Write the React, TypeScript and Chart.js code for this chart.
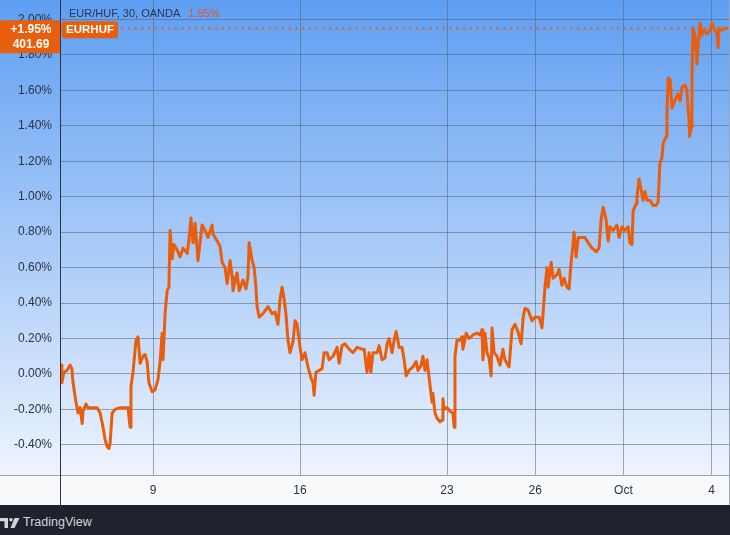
import React, { useEffect, useRef } from "react";
import { Chart, registerables } from "chart.js";

Chart.register(...registerables);

// x = trading days from Mon Sep 9 (weekends skipped), y = % change
const seriesSep4: [number, number][] = [
  [-3.13, 0.05], [-3.1, -0.05], [-3.03, 0.01], [-2.93, 0.02], [-2.82, 0.05], [-2.76, 0.03], [-2.72, -0.05],
  [-2.62, -0.16], [-2.55, -0.22], [-2.48, -0.19], [-2.41, -0.28], [-2.38, -0.21], [-2.28, -0.17], [-2.21, -0.19],
  [-2.04, -0.19], [-1.9, -0.19], [-1.8, -0.22], [-1.7, -0.3], [-1.63, -0.37], [-1.56, -0.41], [-1.5, -0.42],
  [-1.46, -0.39], [-1.39, -0.22], [-1.29, -0.2], [-1.12, -0.19], [-0.85, -0.19], [-0.78, -0.3], [-0.75, -0.07],
  [-0.68, 0.01], [-0.58, 0.19], [-0.51, 0.21], [-0.44, 0.06], [-0.34, 0.1], [-0.27, 0.11], [-0.2, 0.07],
  [-0.14, -0.05], [-0.03, -0.1],
];

const seriesSep9: [number, number][] = [
  [0.07, -0.09], [0.17, -0.03], [0.24, 0.07], [0.31, 0.23], [0.34, 0.08], [0.41, 0.34], [0.48, 0.47], [0.54, 0.49],
  [0.58, 0.81], [0.65, 0.65], [0.71, 0.73], [0.82, 0.7], [0.92, 0.66], [1.02, 0.71], [1.16, 0.68], [1.22, 0.75],
  [1.29, 0.88], [1.36, 0.74], [1.43, 0.85], [1.53, 0.64], [1.67, 0.84], [1.77, 0.81], [1.87, 0.77], [2.01, 0.84],
  [2.04, 0.79], [2.18, 0.75], [2.28, 0.72], [2.35, 0.63], [2.45, 0.6], [2.52, 0.51], [2.62, 0.64], [2.69, 0.55],
  [2.72, 0.47], [2.86, 0.57], [2.93, 0.47], [3.06, 0.53], [3.16, 0.48], [3.23, 0.55], [3.27, 0.74], [3.37, 0.64],
  [3.44, 0.6], [3.5, 0.49], [3.54, 0.38], [3.61, 0.32], [3.74, 0.34], [3.91, 0.38], [4.05, 0.34], [4.15, 0.35],
  [4.25, 0.28], [4.32, 0.42], [4.39, 0.49], [4.46, 0.42], [4.52, 0.34], [4.59, 0.19], [4.66, 0.12], [4.76, 0.18],
  [4.83, 0.3], [4.9, 0.28], [5.0, 0.15],
];

const seriesSep16: [number, number][] = [
  [5.07, 0.08], [5.17, 0.12], [5.27, 0.04], [5.37, -0.02], [5.44, -0.05], [5.48, -0.12], [5.54, 0.01], [5.65, 0.02],
  [5.75, 0.03], [5.82, 0.12], [5.92, 0.12], [5.99, 0.08], [6.12, 0.1], [6.26, 0.15], [6.33, 0.06], [6.43, 0.16],
  [6.53, 0.17], [6.67, 0.14], [6.8, 0.12], [6.94, 0.15], [7.11, 0.14], [7.18, 0.14], [7.24, 0.06], [7.28, 0.01],
  [7.35, 0.12], [7.41, 0.01], [7.48, 0.12], [7.62, 0.12], [7.69, 0.16], [7.79, 0.08], [7.89, 0.09], [7.96, 0.17],
  [8.03, 0.2], [8.13, 0.12], [8.2, 0.19], [8.27, 0.24], [8.37, 0.15], [8.47, 0.15], [8.54, 0.08], [8.61, -0.01],
  [8.71, 0.02], [8.84, 0.04], [8.95, 0.07], [9.01, 0.02], [9.12, 0.05], [9.18, 0.1], [9.25, 0.02], [9.32, 0.08],
  [9.39, -0.02], [9.49, -0.16], [9.52, -0.11], [9.59, -0.22], [9.66, -0.25], [9.76, -0.27], [9.83, -0.26],
  [9.86, -0.14], [9.9, -0.2], [10.0, -0.19], [10.1, -0.21], [10.2, -0.22], [10.24, -0.3], [10.27, 0.1],
  [10.34, 0.19], [10.44, 0.19],
];

const seriesSep23: [number, number][] = [
  [10.51, 0.21], [10.54, 0.14], [10.65, 0.23], [10.75, 0.2], [10.88, 0.22], [11.02, 0.23], [11.12, 0.22],
  [11.19, 0.25], [11.22, 0.08], [11.29, 0.23], [11.36, 0.12], [11.43, 0.09], [11.5, -0.01], [11.53, 0.26],
  [11.6, 0.12], [11.7, 0.1], [11.8, 0.05], [11.9, 0.14], [11.97, 0.08], [12.11, 0.04], [12.21, 0.25], [12.31, 0.28],
  [12.41, 0.24], [12.52, 0.17], [12.59, 0.32], [12.65, 0.37], [12.76, 0.36], [12.89, 0.3], [12.99, 0.32],
  [13.13, 0.32], [13.23, 0.26], [13.27, 0.35], [13.33, 0.49], [13.4, 0.6], [13.44, 0.49], [13.54, 0.63],
  [13.61, 0.54], [13.74, 0.56], [13.81, 0.59], [13.91, 0.5], [13.98, 0.54], [14.08, 0.49], [14.15, 0.48],
  [14.22, 0.63], [14.29, 0.74], [14.32, 0.8], [14.39, 0.66], [14.46, 0.77], [14.59, 0.77], [14.69, 0.77],
  [14.8, 0.74], [14.93, 0.71], [15.07, 0.69], [15.17, 0.71], [15.24, 0.87], [15.31, 0.94], [15.41, 0.87],
  [15.48, 0.75],
];

const seriesSep30: [number, number][] = [
  [15.54, 0.83], [15.65, 0.81], [15.78, 0.84], [15.85, 0.77], [15.95, 0.83], [16.05, 0.81], [16.16, 0.83],
  [16.22, 0.74], [16.29, 0.73], [16.33, 0.92], [16.43, 0.96], [16.46, 1.0], [16.53, 1.1], [16.6, 1.04],
  [16.67, 0.98], [16.73, 1.03], [16.8, 0.98], [16.9, 0.98], [17.01, 0.95], [17.11, 0.95], [17.18, 0.97],
  [17.24, 1.19], [17.31, 1.22], [17.35, 1.3], [17.45, 1.34], [17.48, 1.47], [17.52, 1.67], [17.59, 1.66],
  [17.65, 1.5], [17.72, 1.53], [17.79, 1.56], [17.86, 1.58], [17.93, 1.54], [17.99, 1.62], [18.1, 1.63],
  [18.16, 1.6], [18.23, 1.43], [18.25, 1.34], [18.3, 1.39], [18.33, 1.67], [18.37, 1.95], [18.44, 1.9],
  [18.5, 1.75], [18.54, 1.86], [18.61, 1.98], [18.67, 1.91], [18.71, 1.94], [18.84, 1.92], [18.95, 1.94],
  [19.01, 1.98], [19.08, 1.95], [19.18, 1.92], [19.22, 1.84], [19.25, 1.95], [19.35, 1.94], [19.46, 1.95],
  [19.52, 1.95],
];

const xTickDays = [0, 5, 10, 13, 16, 19];
const xTickLabels = ["9", "16", "23", "26", "Oct", "4"];
const yTicks = [-0.4, -0.2, 0, 0.2, 0.4, 0.6, 0.8, 1.0, 1.2, 1.4, 1.6, 1.8, 2.0];

const xMin = -3.13;
const xMax = 19.59;
const yMin = -0.57;
const yMax = 2.11;

const symbolLabel = "EURHUF";
const titleText = "EUR/HUF, 30, OANDA";
const lastPct = 1.95;
const lastPrice = "401.69";

const LINE = "#e95e0c";
const GRID = "rgba(88,98,114,0.55)";
const TEXT = "#2b3340";

function roundRect(ctx: CanvasRenderingContext2D, x: number, y: number, w: number, h: number, r: number) {
  ctx.beginPath();
  ctx.moveTo(x + r, y);
  ctx.lineTo(x + w - r, y);
  ctx.quadraticCurveTo(x + w, y, x + w, y + r);
  ctx.lineTo(x + w, y + h - r);
  ctx.quadraticCurveTo(x + w, y + h, x + w - r, y + h);
  ctx.lineTo(x + r, y + h);
  ctx.quadraticCurveTo(x, y + h, x, y + h - r);
  ctx.lineTo(x, y + r);
  ctx.quadraticCurveTo(x, y, x + r, y);
  ctx.closePath();
}

const tvPlugin = {
  id: "tvPlugin",
  beforeDraw(chart: any) {
    const { ctx, chartArea, width, height } = chart;
    ctx.save();
    const g = ctx.createLinearGradient(0, 0, 0, chartArea.bottom);
    g.addColorStop(0, "#5e9ef2");
    g.addColorStop(0.5, "#a6c9f8");
    g.addColorStop(1, "#eef4fd");
    ctx.fillStyle = g;
    ctx.fillRect(0, 0, width, chartArea.bottom);
    ctx.fillStyle = "#f8f9fb";
    ctx.fillRect(0, chartArea.bottom, width, height - chartArea.bottom);
    ctx.restore();
  },
  beforeDatasetsDraw(chart: any) {
    const { ctx, chartArea, scales } = chart;
    const py = Math.round(scales.y.getPixelForValue(lastPct)) + 0.5;
    ctx.save();
    ctx.strokeStyle = LINE;
    ctx.lineWidth = 2;
    ctx.setLineDash([2, 4.7]);
    ctx.beginPath();
    ctx.moveTo(chartArea.left, py);
    ctx.lineTo(chartArea.right, py);
    ctx.stroke();
    ctx.restore();
  },
  afterDraw(chart: any) {
    const { ctx, chartArea, scales, width, height } = chart;
    const { left, bottom } = chartArea;
    ctx.save();
    // axis lines
    ctx.lineWidth = 1;
    ctx.strokeStyle = "#9aa4b2";
    ctx.beginPath();
    ctx.moveTo(0, bottom + 0.5);
    ctx.lineTo(width, bottom + 0.5);
    ctx.stroke();
    ctx.beginPath();
    ctx.moveTo(width - 0.5, 0);
    ctx.lineTo(width - 0.5, height);
    ctx.stroke();
    ctx.strokeStyle = "#2f3542";
    ctx.beginPath();
    ctx.moveTo(left - 0.5, 0);
    ctx.lineTo(left - 0.5, height);
    ctx.stroke();

    const py = scales.y.getPixelForValue(lastPct);

    // title
    ctx.textBaseline = "middle";
    ctx.textAlign = "left";
    ctx.font = "11px 'Liberation Sans', Arial, sans-serif";
    ctx.fillStyle = "#2a3550";
    ctx.fillText(titleText, left + 8, py - 14);
    const tw = ctx.measureText(titleText).width;
    ctx.fillStyle = "#e2552a";
    ctx.fillText(lastPct.toFixed(2) + "%", left + 8 + tw + 8, py - 14);

    // price label box on the axis
    ctx.fillStyle = LINE;
    roundRect(ctx, 0, py - 8, left - 1, 33, 2);
    ctx.fill();
    ctx.fillStyle = "#ffffff";
    ctx.textAlign = "center";
    ctx.font = "bold 12px 'Liberation Sans', Arial, sans-serif";
    ctx.fillText("+" + lastPct.toFixed(2) + "%", (left - 1) / 2 + 1, py + 1);
    ctx.fillText(lastPrice, (left - 1) / 2 + 1, py + 16);

    // symbol label box
    ctx.fillStyle = LINE;
    roundRect(ctx, left + 1, py - 7, 56, 17, 2);
    ctx.fill();
    ctx.fillStyle = "#ffffff";
    ctx.font = "bold 11.5px 'Liberation Sans', Arial, sans-serif";
    ctx.fillText(symbolLabel, left + 29, py + 1.5);
    ctx.restore();
  },
};

export default function App() {
  const canvasRef = useRef<HTMLCanvasElement | null>(null);

  useEffect(() => {
    if (!canvasRef.current) return;
    const points = [...seriesSep4, ...seriesSep9, ...seriesSep16, ...seriesSep23, ...seriesSep30].map(([x, y]) => ({ x, y }));
    const chart = new Chart(canvasRef.current, {
      type: "line",
      data: {
        datasets: [
          {
            data: points,
            borderColor: LINE,
            borderWidth: 3,
            pointRadius: 0,
            tension: 0,
            borderJoinStyle: "round",
            borderCapStyle: "round",
            fill: false,
          },
        ],
      },
      options: {
        responsive: false,
        animation: false,
        events: [],
        layout: { padding: { left: 0, right: 1, top: 0, bottom: 0 } },
        plugins: { legend: { display: false }, tooltip: { enabled: false } },
        scales: {
          x: {
            type: "linear",
            position: "bottom",
            min: xMin,
            max: xMax,
            afterBuildTicks: (s: any) => {
              s.ticks = xTickDays.map((v) => ({ value: v }));
            },
            afterFit: (s: any) => {
              s.height = 30;
              s.paddingLeft = 0;
              s.paddingRight = 0;
            },
            ticks: {
              autoSkip: false,
              maxRotation: 0,
              padding: 8,
              color: TEXT,
              font: { family: "'Liberation Sans', Arial, sans-serif", size: 12 },
              callback: (v: any) => {
                const i = xTickDays.indexOf(Number(v));
                return i >= 0 ? xTickLabels[i] : "";
              },
            },
            grid: { color: GRID, lineWidth: 1, drawTicks: false },
            border: { display: false },
          },
          y: {
            type: "linear",
            position: "left",
            min: yMin,
            max: yMax,
            afterBuildTicks: (s: any) => {
              s.ticks = yTicks.map((v) => ({ value: v }));
            },
            afterFit: (s: any) => {
              s.width = 61;
              s.paddingTop = 0;
              s.paddingBottom = 0;
            },
            ticks: {
              padding: 9,
              color: TEXT,
              font: { family: "'Liberation Sans', Arial, sans-serif", size: 12 },
              callback: (v: any) => Number(v).toFixed(2) + "%",
            },
            grid: { color: GRID, lineWidth: 1, drawTicks: false },
            border: { display: false },
          },
        },
      },
      plugins: [tvPlugin],
    } as any);
    return () => chart.destroy();
  }, []);

  return (
    <div style={{ position: "absolute", left: 0, top: 0, width: 730, height: 535, overflow: "hidden" }}>
      <canvas ref={canvasRef} width={730} height={505} style={{ display: "block", width: 730, height: 505 }} />
      <div
        style={{
          position: "absolute",
          left: 0,
          top: 505,
          width: 730,
          height: 30,
          background: "#1e222d",
        }}
      >
        <svg width="22" height="12" viewBox="0 0 22 12" style={{ position: "absolute", left: 0, top: 13 }}>
          <rect x="0" y="0" width="8" height="3.2" fill="#d1d4dc" />
          <rect x="4.5" y="0" width="3.5" height="10" fill="#d1d4dc" />
          <circle cx="11" cy="1.8" r="1.8" fill="#d1d4dc" />
          <polygon points="14.5,0 19.5,0 14.5,10 10.5,10" fill="#d1d4dc" />
        </svg>
        <span
          style={{
            position: "absolute",
            left: 23,
            top: 10,
            fontFamily: "'Liberation Sans', Arial, sans-serif",
            fontSize: 12.5,
            lineHeight: "15px",
            color: "#d1d4dc",
          }}
        >
          TradingView
        </span>
      </div>
    </div>
  );
}
